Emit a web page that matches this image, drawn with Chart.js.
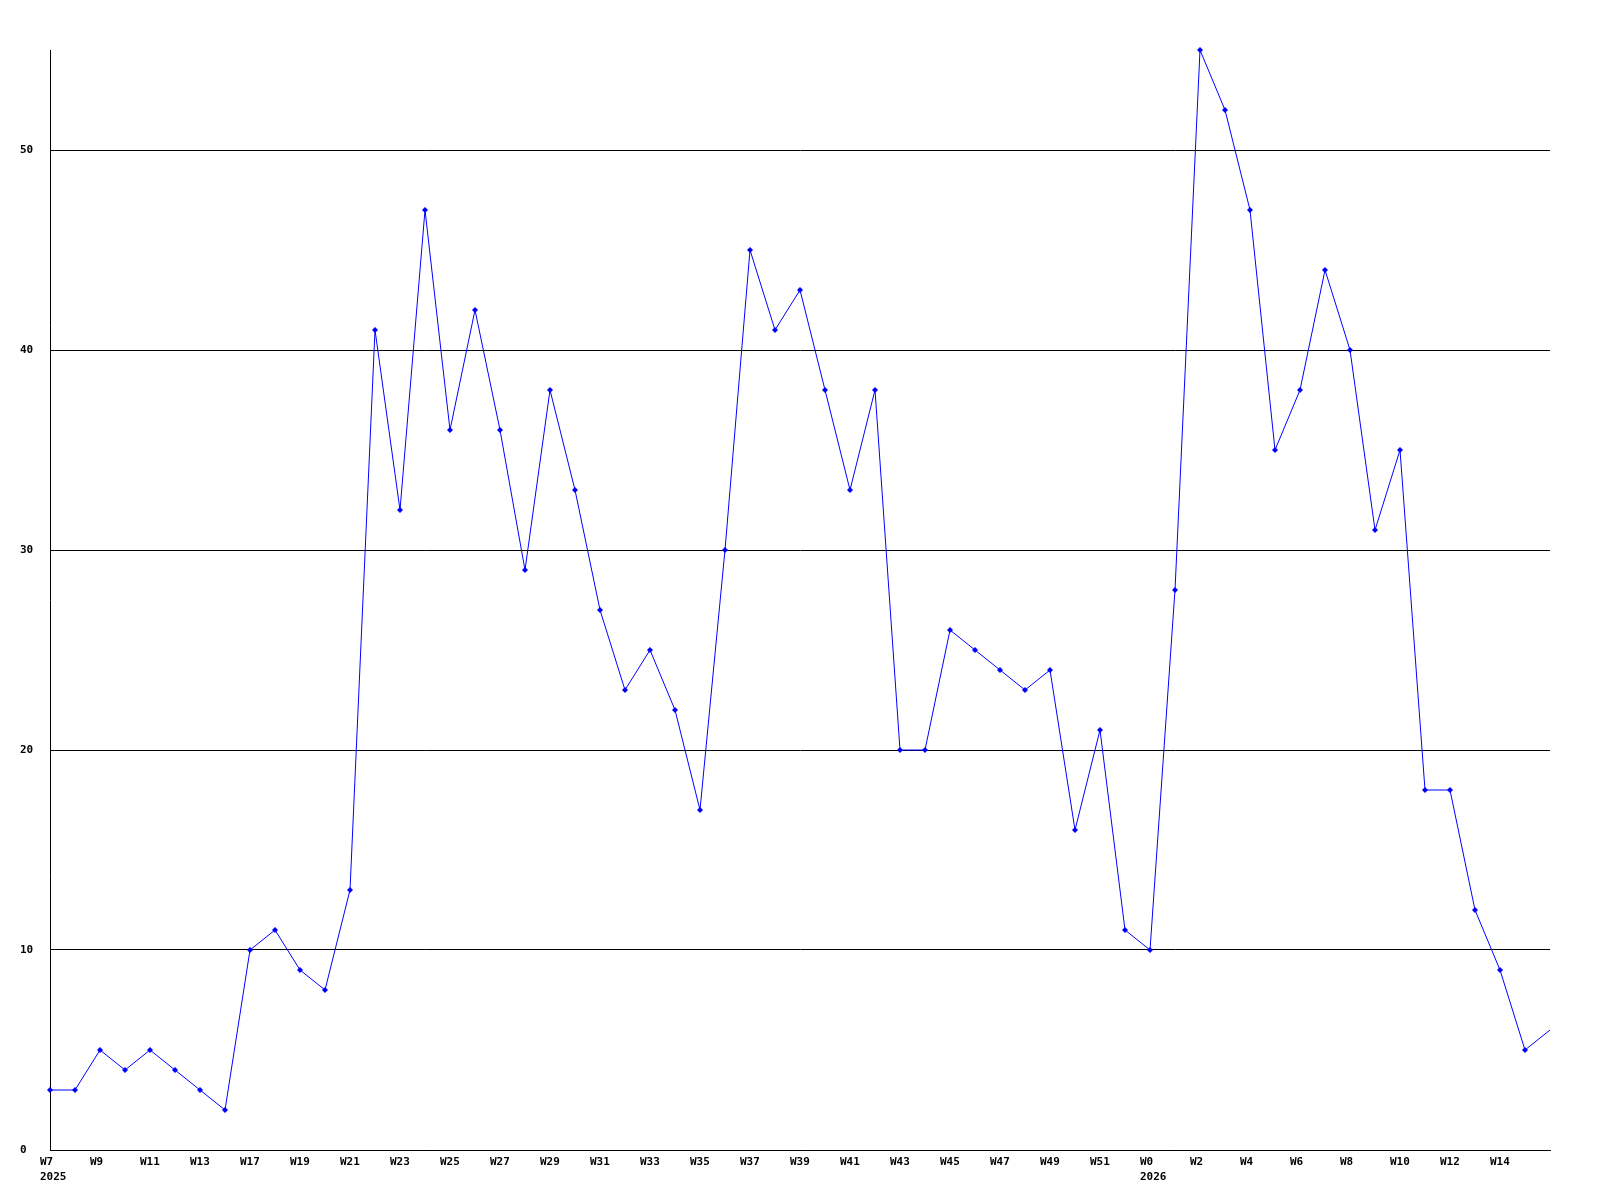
<!DOCTYPE html>
<html>
<head>
<meta charset="utf-8">
<script src="https://cdn.jsdelivr.net/npm/chart.js@4/dist/chart.umd.min.js"></script>
<style>
html,body{margin:0;padding:0;background:#fff;}
canvas{display:block;}
</style>
</head>
<body>
<canvas id="c" width="1600" height="1200"></canvas>
<script>
// Week categories (every other one is labelled on the axis)
const weeks = ["W7","W8","W9","W10","W11","W12","W13","W15","W17","W18","W19","W20","W21","W22","W23","W24","W25","W26","W27","W28","W29","W30","W31","W32","W33","W34","W35","W36","W37","W38","W39","W40","W41","W42","W43","W44","W45","W46","W47","W48","W49","W50","W51","W52","W0","W1","W2","W3","W4","W5","W6","W7","W8","W9","W10","W11","W12","W13","W14","W15","W16"];
// Year sub-labels by category index
const yearLabels = {0: "2025", 44: "2026"};
// Weekly counts
const values = [3,3,5,4,5,4,3,2,10,11,9,8,13,41,32,47,36,42,36,29,38,33,27,23,25,22,17,30,45,41,43,38,33,38,20,20,26,25,24,23,24,16,21,11,10,28,55,52,47,35,38,44,40,31,35,18,18,12,9,5,6];
const yTicks = [0,10,20,30,40,50];
const yMax = 55;

const font = {family: "'DejaVu Sans Mono', monospace", size: 11, weight: 'bold', lineHeight: '15px'};

new Chart(document.getElementById('c'), {
  type: 'line',
  data: {
    labels: weeks,
    datasets: [{
      data: values,
      borderColor: '#0000ff',
      backgroundColor: '#0000ff',
      borderWidth: 1,
      tension: 0,
      fill: false,
      clip: false,
      pointStyle: 'rectRot',
      pointRadius: ctx => ctx.dataIndex === values.length - 1 ? 0 : 3,
      pointBorderWidth: 0,
      pointBackgroundColor: '#0000ff'
    }]
  },
  options: {
    responsive: false,
    animation: false,
    devicePixelRatio: 1,
    layout: {padding: {left: 20, top: 50, right: 50, bottom: 0}},
    plugins: {legend: {display: false}, tooltip: {enabled: false}},
    scales: {
      x: {
        type: 'category',
        offset: false,
        grid: {display: false, drawTicks: false},
        border: {display: true, color: '#000', width: 1},
        ticks: {
          autoSkip: false,
          maxRotation: 0,
          minRotation: 0,
          align: 'start',
          labelOffset: -10,
          padding: 5,
          color: '#000',
          font: font,
          callback: function(v, i) {
            if (i % 2 !== 0 || i === weeks.length - 1) return '';
            const w = weeks[i];
            return yearLabels[i] ? [w, yearLabels[i]] : w;
          }
        },
        afterFit: s => { s.height = 50; }
      },
      y: {
        min: 0,
        max: yMax,
        grid: {color: '#000', lineWidth: 1, drawTicks: false},
        border: {display: true, color: '#000', width: 1},
        afterBuildTicks: s => { s.ticks = yTicks.map(v => ({value: v})); },
        ticks: {
          crossAlign: 'far',
          padding: 0,
          color: '#000',
          font: font,
          includeBounds: false
        },
        afterFit: s => { s.width = 30; }
      }
    }
  }
});
</script>
</body>
</html>
